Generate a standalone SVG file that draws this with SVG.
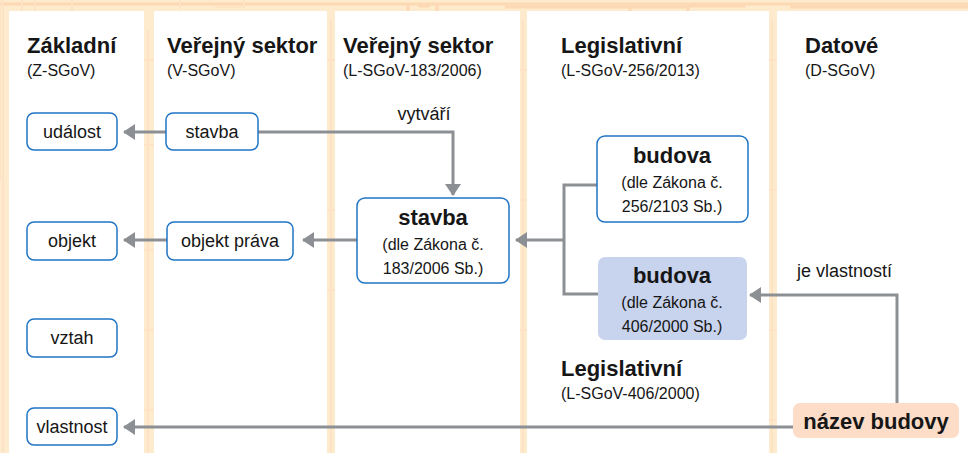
<svg xmlns="http://www.w3.org/2000/svg" width="968" height="453" viewBox="0 0 968 453">
  <defs>
    <style>
      text { font-family: "Liberation Sans", Arial, sans-serif; fill: #161616; }
      .title { font-size: 22px; font-weight: bold; }
      .sub { font-size: 16px; }
      .lbl { font-size: 16px; text-anchor: middle; }
      .name { font-size: 18px; text-anchor: middle; }
      .edge-lbl { font-size: 18px; }
      .bold { font-size: 22px; font-weight: bold; text-anchor: middle; }
      .node { fill: #ffffff; stroke: #1f74c4; stroke-width: 1.5; }
      .node-fill { fill: #c8d3ee; }
      .node-attr { fill: #fddcc8; }
      .conn { fill: none; stroke: #8c8f93; stroke-width: 3; }
      .grid { stroke: #fcd9b4; stroke-width: 3; fill: none; }
      .grid-soft { stroke: #fde3c4; stroke-width: 2; fill: none; }
    </style>
    <marker id="arrow" viewBox="0 0 12 16" refX="11" refY="8" markerWidth="12" markerHeight="16" markerUnits="userSpaceOnUse" orient="auto">
      <path d="M0,0 L12,8 L0,16 Z" fill="#8c8f93"/>
    </marker>
  </defs>

  <!-- backdrop -->
  <rect width="968" height="453" fill="#feeacc"/>
  <g id="backdrop-grid">
    <path class="grid" d="M0,4 H968"/>
    <path class="grid-soft" d="M22,0 V11 M35,0 V11 M72,0 V11 M180,0 V9 M215,7 H244 V0"/>
    <path class="grid" d="M408,3 V11 M418,6 H430 M437,3 V11 M505,7 H630 M630,3 V11 M630,7 H690"/>
    <path class="grid" d="M688,3 V11 M688,6 H744 V3 M790,7 H968"/>
    <path class="grid-soft" d="M0,0 V180 M3,0 V453 M148,30 V453 M331,20 V453 M523,20 V453 M772,20 V453"/>
    <path class="grid-soft" d="M144,60 H154 M144,145 H154 M144,250 H154 M144,330 H154 M144,410 H154 M327,60 H335 M327,210 H335 M327,290 H335 M520,70 H527 M520,200 H527 M520,330 H527 M768,60 H777 M768,190 H777 M768,330 H777 M768,420 H777"/>
  </g>

  <!-- swimlane panels -->
  <g id="lanes" fill="#ffffff">
    <rect x="9" y="11" width="135" height="442"/>
    <rect x="154" y="11" width="173" height="442"/>
    <rect x="335" y="11" width="185" height="442"/>
    <rect x="527" y="11" width="242" height="442"/>
    <rect x="777" y="11" width="191" height="442"/>
  </g>

  <!-- lane headers -->
  <g id="headers">
    <text class="title" x="27" y="53">Základní</text>
    <text class="sub" x="27" y="76">(Z-SGoV)</text>
    <text class="title" x="167" y="53">Veřejný sektor</text>
    <text class="sub" x="167" y="76">(V-SGoV)</text>
    <text class="title" x="343" y="53">Veřejný sektor</text>
    <text class="sub" x="343" y="76">(L-SGoV-183/2006)</text>
    <text class="title" x="561" y="53">Legislativní</text>
    <text class="sub" x="561" y="76">(L-SGoV-256/2013)</text>
    <text class="title" x="805" y="53">Datové</text>
    <text class="sub" x="805" y="76">(D-SGoV)</text>
    <text class="title" x="561" y="376">Legislativní</text>
    <text class="sub" x="561" y="399">(L-SGoV-406/2000)</text>
  </g>

  <!-- connectors -->
  <g id="connectors">
    <path class="conn" d="M166,132 H124" marker-end="url(#arrow)"/>
    <path class="conn" d="M258,132 H453 V195" marker-end="url(#arrow)"/>
    <text class="name" x="424" y="120">vytváří</text>
    <path class="conn" d="M167,240 H124" marker-end="url(#arrow)"/>
    <path class="conn" d="M357,240 H303" marker-end="url(#arrow)"/>
    <path class="conn" d="M597,185 H564 V294 H598 M564,240 H516" marker-end="url(#arrow)"/>
    <path class="conn" d="M897,403 V295 H750" marker-end="url(#arrow)"/>
    <text class="edge-lbl" x="797" y="277">je vlastností</text>
    <path class="conn" d="M793,427 H124" marker-end="url(#arrow)"/>
  </g>

  <!-- nodes -->
  <g id="n-udalost">
    <rect class="node" x="27" y="113" width="90" height="37" rx="7"/>
    <text class="name" x="72" y="138">událost</text>
  </g>
  <g id="n-objekt">
    <rect class="node" x="27" y="222" width="90" height="38" rx="7"/>
    <text class="name" x="72" y="247">objekt</text>
  </g>
  <g id="n-vztah">
    <rect class="node" x="27" y="319" width="90" height="38" rx="7"/>
    <text class="name" x="72" y="344">vztah</text>
  </g>
  <g id="n-vlastnost">
    <rect class="node" x="27" y="408" width="90" height="37" rx="7"/>
    <text class="name" x="72" y="433">vlastnost</text>
  </g>
  <g id="n-stavba-v">
    <rect class="node" x="166" y="113" width="92" height="37" rx="7"/>
    <text class="name" x="212" y="138">stavba</text>
  </g>
  <g id="n-objekt-prava">
    <rect class="node" x="167" y="222" width="126" height="38" rx="7"/>
    <text class="name" x="230" y="247">objekt práva</text>
  </g>
  <g id="n-stavba-183">
    <rect class="node" x="357" y="198" width="152" height="85" rx="8"/>
    <text class="bold" x="433" y="225">stavba</text>
    <text class="lbl" x="433" y="250">(dle Zákona č.</text>
    <text class="lbl" x="433" y="274">183/2006 Sb.)</text>
  </g>
  <g id="n-budova-256">
    <rect class="node" x="597" y="136" width="151" height="86" rx="8"/>
    <text class="bold" x="672" y="163">budova</text>
    <text class="lbl" x="672" y="188">(dle Zákona č.</text>
    <text class="lbl" x="672" y="212">256/2103 Sb.)</text>
  </g>
  <g id="n-budova-406">
    <rect class="node-fill" x="598" y="257" width="149" height="83" rx="7"/>
    <text class="bold" x="672" y="283">budova</text>
    <text class="lbl" x="672" y="308">(dle Zákona č.</text>
    <text class="lbl" x="672" y="332">406/2000 Sb.)</text>
  </g>
  <g id="n-nazev-budovy">
    <rect class="node-attr" x="793" y="403" width="166" height="35" rx="7"/>
    <text class="bold" x="876" y="429">název budovy</text>
  </g>
</svg>
